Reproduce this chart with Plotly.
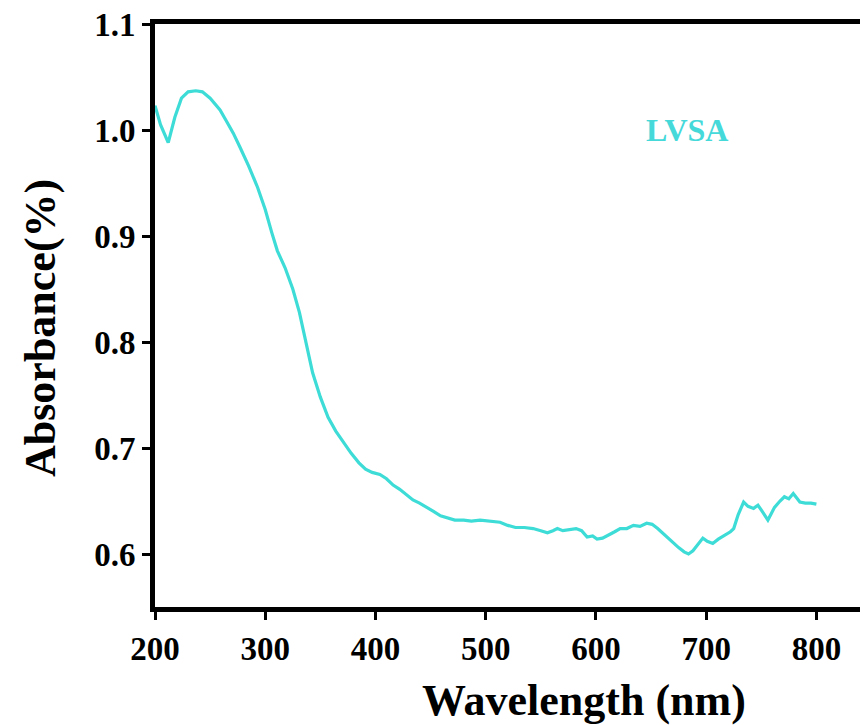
import plotly.graph_objects as go

wavelength = [200, 205, 212, 218, 224, 230, 237, 243, 250, 259, 265, 271, 277, 285, 293,
              300, 306, 311, 318, 325, 331, 337, 343, 350, 357, 364, 371, 378, 385, 391,
              397, 404, 410, 416, 422, 428, 434, 440, 447, 453, 459, 465, 472, 480, 487,
              495, 503, 513, 520, 527, 535, 543, 550, 556, 561, 565, 570, 576, 582, 587,
              592, 597, 601, 606, 612, 617, 622, 628, 634, 640, 646, 651, 656, 661, 665,
              670, 675, 680, 684, 688, 692, 697, 701, 706, 711, 716, 722, 725, 729, 734,
              738, 743, 747, 751, 756, 759, 762, 767, 771, 775, 779, 782, 785, 790, 795, 800]
absorbance = [1.023, 1.005, 0.988, 1.012, 1.030, 1.036, 1.037, 1.036, 1.030, 1.019, 1.008, 0.997,
              0.984, 0.966, 0.946, 0.925, 0.903, 0.886, 0.870, 0.850, 0.828, 0.800, 0.771, 0.748,
              0.729, 0.716, 0.705, 0.695, 0.686, 0.680, 0.677, 0.675, 0.671, 0.665, 0.661, 0.656,
              0.651, 0.648, 0.644, 0.640, 0.636, 0.634, 0.632, 0.632, 0.631, 0.632, 0.631, 0.630,
              0.627, 0.625, 0.625, 0.624, 0.622, 0.620, 0.622, 0.624, 0.622, 0.623, 0.624, 0.622,
              0.616, 0.617, 0.614, 0.615, 0.618, 0.621, 0.624, 0.624, 0.627, 0.626, 0.629, 0.628,
              0.624, 0.619, 0.615, 0.610, 0.606, 0.602, 0.600, 0.603, 0.608, 0.615, 0.612, 0.610,
              0.614, 0.617, 0.621, 0.624, 0.637, 0.649, 0.645, 0.643, 0.646, 0.640, 0.632, 0.638,
              0.644, 0.650, 0.654, 0.652, 0.657, 0.653, 0.649, 0.648, 0.648, 0.647]

x_ticks = [200, 300, 400, 500, 600, 700, 800]
y_ticks = [0.6, 0.7, 0.8, 0.9, 1.0, 1.1]
y_tick_labels = ["0.6", "0.7", "0.8", "0.9", "1.0", "1.1"]

series_name = "LVSA"
x_title = "Wavelength (nm)"
y_title = "Absorbance(%)"

line_color = "#3EDCD6"
font_family = "Liberation Serif"

# page offset of the figure inside the html body
OFF = 8
W, H = 868, 725
left, right, top, bottom = 155 - OFF, 866 - OFF, 24 - OFF, 607 - OFF
pw, ph = right - left, bottom - top

fig = go.Figure()
fig.add_trace(go.Scatter(
    x=wavelength, y=absorbance, mode="lines",
    line=dict(color=line_color, width=3.2),
    name=series_name, showlegend=False,
))

axis_common = dict(
    showline=True, linecolor="black", linewidth=5, mirror=True,
    ticks="outside", tickcolor="black", tickwidth=3, ticklen=8,
    showgrid=False, zeroline=False, ticklabeloverflow="allow", automargin=False,
    tickfont=dict(family=font_family, size=33, color="black", weight="bold"),
)

fig.update_layout(
    width=W, height=H,
    margin=dict(l=left, r=W - right, t=top, b=H - bottom, autoexpand=False),
    paper_bgcolor="white", plot_bgcolor="white",
    xaxis=dict(range=[200, 845], tickvals=x_ticks, **axis_common),
    yaxis=dict(range=[0.55, 1.1], tickvals=y_ticks, ticktext=y_tick_labels, **axis_common),
    annotations=[
        dict(text=series_name, xref="x", yref="y", x=683, y=1.0, showarrow=False,
             font=dict(family=font_family, size=32, color="#45D9DA", weight="bold")),
        dict(text=x_title, xref="paper", yref="paper",
             x=(584 - OFF - left) / pw, y=-(700 - OFF - bottom) / ph,
             xanchor="center", yanchor="middle", showarrow=False,
             font=dict(family=font_family, size=44, color="black", weight="bold")),
        dict(text=y_title, xref="paper", yref="paper",
             x=-(left - (40 - OFF)) / pw, y=(bottom - (328 - OFF)) / ph,
             xanchor="center", yanchor="middle", showarrow=False, textangle=-90,
             font=dict(family=font_family, size=44, color="black", weight="bold")),
    ],
)

fig.write_html("out.html")
